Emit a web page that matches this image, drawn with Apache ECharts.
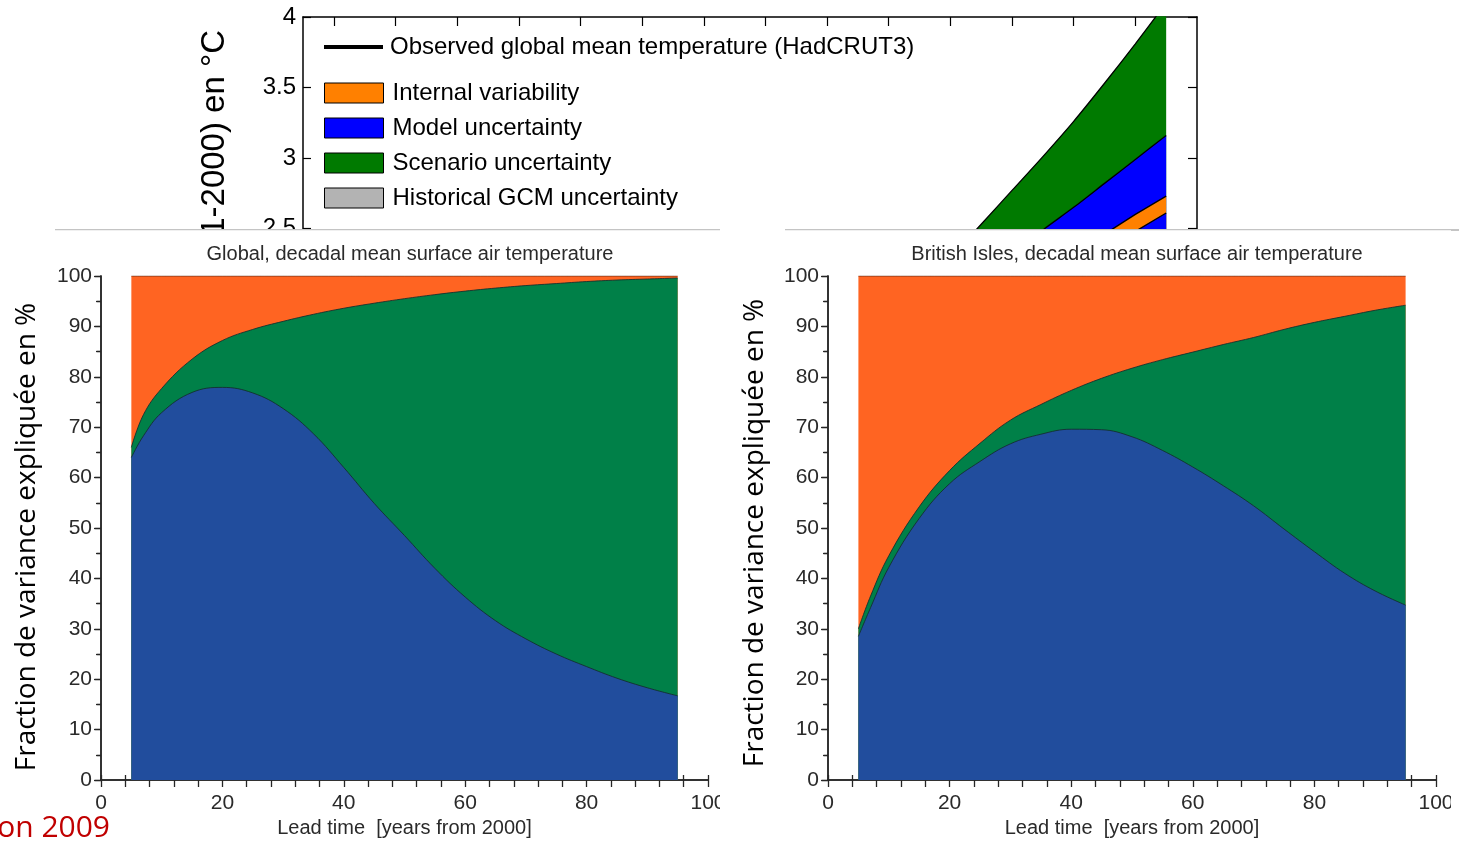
<!DOCTYPE html>
<html><head><meta charset="utf-8">
<script src="https://cdn.jsdelivr.net/npm/echarts@6/dist/echarts.min.js"></script>
<style>
html,body{margin:0;padding:0;background:#fff;width:1459px;height:843px;overflow:hidden;position:relative}
#topWrap{position:absolute;left:0;top:0;width:1459px;height:229px;overflow:hidden}
#top{position:absolute;left:0;top:0;width:1459px;height:310px}
#left{position:absolute;left:0;top:229px;width:720px;height:614px}
#right{position:absolute;left:720px;top:229px;width:731px;height:614px}
#rightEdge{position:absolute;left:1451px;top:229px;width:8px;height:1.5px;background:#c4c4c4}
</style></head><body>
<div id="topWrap"><div id="top"></div></div>
<div id="left"></div>
<div id="right"></div>
<div id="rightEdge"></div>
<script>
// ---------- data: top panel (temperature projections, °C) ----------
const topYears       = [2060, 2065, 2070, 2075, 2080, 2085, 2090, 2095];
const scenarioUpper  = [2.29, 2.53, 2.77, 3.01, 3.26, 3.53, 3.81, 4.10];
const modelUpper     = [2.00, 2.15, 2.32, 2.49, 2.65, 2.82, 2.99, 3.16];
const internalYears  = [2080, 2085, 2090, 2095];
const internalLower  = [2.22, 2.35, 2.48, 2.61];
const internalUpper  = [2.33, 2.46, 2.60, 2.73];
const topXTicks      = [1960, 1970, 1980, 1990, 2000, 2010, 2020, 2030, 2040, 2050, 2060, 2070, 2080, 2090];

// ---------- data: fraction of variance (%) ----------
const lead = [5, 7, 10, 15, 20, 25, 30, 35, 40, 45, 50, 55, 60, 65, 70, 75, 80, 85, 90, 95];
const globalModel    = [64.0, 68.3, 72.9, 76.9, 77.9, 76.8, 73.7, 68.7, 62.0, 54.9, 48.5, 42.0, 36.3, 31.6, 28.0, 25.0, 22.5, 20.2, 18.3, 16.7];
const globalScenario = [2.0, 4.2, 4.8, 6.6, 9.3, 12.6, 17.3, 23.7, 31.6, 39.7, 47.0, 54.3, 60.7, 66.0, 70.1, 73.5, 76.4, 79.0, 81.1, 82.9];
const globalInternal = [34.0, 27.5, 22.3, 16.5, 12.8, 10.6, 9.0, 7.6, 6.4, 5.4, 4.5, 3.7, 3.0, 2.4, 1.9, 1.5, 1.1, 0.8, 0.6, 0.4];
const britishModel    = [28.5, 34.2, 42.2, 51.9, 58.8, 63.2, 66.7, 68.6, 69.6, 69.5, 68.1, 65.4, 62.1, 58.4, 54.4, 49.8, 45.3, 41.0, 37.5, 34.7];
const britishScenario = [1.5, 2.3, 2.3, 2.3, 2.6, 3.6, 4.7, 5.9, 7.7, 10.2, 13.6, 18.0, 22.8, 28.0, 33.4, 39.6, 45.5, 51.0, 55.7, 59.5];
const britishInternal = [70.0, 63.5, 55.5, 45.8, 38.6, 33.2, 28.6, 25.5, 22.7, 20.3, 18.3, 16.6, 15.1, 13.6, 12.2, 10.6, 9.2, 8.0, 6.8, 5.8];

const HELV = 'Liberation Sans, Arial, sans-serif';
const SLIDE = 'Open Sans, Noto Sans, sans-serif';
const zip = (xs, ys) => xs.map((x, i) => [x, ys[i]]);

// ---------- top panel ----------
const topChart = echarts.init(document.getElementById('top'), null, {renderer: 'canvas'});
const LEG_OBS = 'Observed global mean temperature (HadCRUT3)';
const bandLine = {color: '#000', width: 1.3};
topChart.setOption({
  animation: false,
  backgroundColor: '#fff',
  grid: {left: 303, right: 262, top: 17, height: 282, outerBoundsMode: 'none'},
  legend: [
    {data: [{name: LEG_OBS, icon: 'rect', itemStyle: {color: '#000', borderWidth: 0}}],
     left: 319, top: 30, itemWidth: 59, itemHeight: 4, selectedMode: false,
     textStyle: {fontSize: 24, fontFamily: HELV, color: '#000', padding: [0, 0, 0, 2]}},
    {data: [
       {name: 'Internal variability', icon: 'rect', itemStyle: {color: '#ff8000', borderColor: '#000', borderWidth: 1}},
       {name: 'Model uncertainty', icon: 'rect', itemStyle: {color: '#0000ff', borderColor: '#000', borderWidth: 1}},
       {name: 'Scenario uncertainty', icon: 'rect', itemStyle: {color: '#007a00', borderColor: '#000', borderWidth: 1}},
       {name: 'Historical GCM uncertainty', icon: 'rect', itemStyle: {color: '#b3b3b3', borderColor: '#000', borderWidth: 1}}
     ],
     orient: 'vertical', left: 319, top: 76, itemWidth: 59, itemHeight: 20, itemGap: 11, selectedMode: false,
     textStyle: {fontSize: 24, fontFamily: HELV, color: '#000', padding: [0, 0, 0, 4]}}
  ],
  xAxis: [
    {type: 'value', min: 1955, max: 2100, position: 'bottom',
     axisLine: {show: true, lineStyle: {color: '#000', width: 1.5}},
     axisTick: {show: false}, axisLabel: {show: false}, splitLine: {show: false}},
    {type: 'value', min: 1955, max: 2100, position: 'top',
     axisLine: {show: true, lineStyle: {color: '#000', width: 1.5}},
     axisTick: {show: true, inside: true, length: 9, customValues: topXTicks, lineStyle: {color: '#000', width: 1.2}},
     axisLabel: {show: false}, splitLine: {show: false}}
  ],
  yAxis: [
    {type: 'value', min: 2, max: 4, interval: 0.5, position: 'left',
     axisLine: {show: true, lineStyle: {color: '#000', width: 1.5}},
     axisTick: {show: true, inside: true, length: 8, lineStyle: {color: '#000', width: 1.2}},
     axisLabel: {fontSize: 24, fontFamily: HELV, color: '#000', margin: 7},
     splitLine: {show: false}},
    {type: 'value', min: 2, max: 4, interval: 0.5, position: 'right',
     axisLine: {show: true, lineStyle: {color: '#000', width: 1.5}},
     axisTick: {show: true, inside: true, length: 9, lineStyle: {color: '#000', width: 1.2}},
     axisLabel: {show: false}, splitLine: {show: false}}
  ],
  series: [
    {name: 'Scenario uncertainty', type: 'line', data: zip(topYears, scenarioUpper), symbol: 'none', smooth: 0.3,
     itemStyle: {color: '#007a00'}, lineStyle: bandLine,
     areaStyle: {color: '#007a00', opacity: 1, origin: 'start'}, z: 2},
    {name: 'Model uncertainty', type: 'line', data: zip(topYears, modelUpper), symbol: 'none', smooth: 0.3,
     itemStyle: {color: '#0000ff'}, lineStyle: bandLine,
     areaStyle: {color: '#0000ff', opacity: 1, origin: 'start'}, z: 3},
    {name: 'Internal variability', type: 'line', data: zip(internalYears, internalUpper), symbol: 'none',
     itemStyle: {color: '#ff8000'}, lineStyle: bandLine,
     areaStyle: {color: '#ff8000', opacity: 1, origin: 'start'}, z: 4},
    {name: 'Model uncertainty', type: 'line', data: zip(internalYears, internalLower), symbol: 'none',
     itemStyle: {color: '#0000ff'}, lineStyle: bandLine,
     areaStyle: {color: '#0000ff', opacity: 1, origin: 'start'}, z: 5},
    {name: LEG_OBS, type: 'line', data: [], symbol: 'none', itemStyle: {color: '#000'}, lineStyle: {color: '#000', width: 4}},
    {name: 'Historical GCM uncertainty', type: 'line', data: [], symbol: 'none', itemStyle: {color: '#b3b3b3'},
     areaStyle: {color: '#b3b3b3'}}
  ],
  graphic: [
    {type: 'text', x: 215, y: 30, rotation: Math.PI / 2,
     style: {text: 'Anomalie de température (1971-2000) en °C', fontSize: 33, fontFamily: HELV, fill: '#000',
             textAlign: 'right', textVerticalAlign: 'middle'}}
  ]
});

// ---------- bottom panels ----------
function fractionChart(el, cfg) {
  const c = echarts.init(el, null, {renderer: 'canvas'});
  const axisCol = '#262626';
  const edge = {color: 'rgba(20,45,45,0.85)', width: 1};
  // cumulative tops of the three variance fractions
  const topModel = cfg.model;
  const topScenario = cfg.model.map((v, i) => v + cfg.scenario[i]);
  const topInternal = topScenario.map((v, i) => v + cfg.internal[i]);
  c.setOption({
    animation: false,
    backgroundColor: 'transparent',
    title: {text: cfg.title, left: cfg.titleX, top: 10, textAlign: 'center',
            textStyle: {fontSize: 20, fontWeight: 'normal', fontFamily: HELV, color: '#2a2a2a'}},
    grid: {left: cfg.gridLeft, top: 47, width: cfg.gridWidth, height: 504, outerBoundsMode: 'none'},
    xAxis: [
      {type: 'value', min: 0, max: 100, interval: 20, position: 'bottom',
       name: 'Lead time  [years from 2000]', nameLocation: 'middle', nameGap: 32,
       nameTextStyle: {fontSize: 20, fontFamily: HELV, color: '#2a2a2a'},
       axisLine: {show: true, lineStyle: {color: axisCol, width: 1.5}},
       axisTick: {show: true, length: 7, lineStyle: {color: axisCol, width: 1.3}},
       minorTick: {show: true, splitNumber: 5, length: 7, lineStyle: {color: axisCol, width: 1.3}},
       axisLabel: {fontSize: 21, fontFamily: HELV, color: '#2a2a2a', margin: 13},
       splitLine: {show: false}},
      {type: 'value', min: 0, max: 100, interval: 20, position: 'top',
       axisLine: {show: true, lineStyle: {color: axisCol, width: 1.5}},
       axisTick: {show: true, length: 5, lineStyle: {color: axisCol, width: 1.3}},
       minorTick: {show: true, splitNumber: 5, length: 5, lineStyle: {color: axisCol, width: 1.3}},
       axisLabel: {show: false}, splitLine: {show: false}}
    ],
    yAxis: [
      {type: 'value', min: 0, max: 100, interval: 10, position: 'left',
       axisLine: {show: true, lineStyle: {color: axisCol, width: 1.5}},
       axisTick: {show: true, length: 7, lineStyle: {color: axisCol, width: 1.3}},
       minorTick: {show: true, splitNumber: 2, length: 5, lineStyle: {color: axisCol, width: 1.3}},
       axisLabel: {fontSize: 21, fontFamily: HELV, color: '#2a2a2a', margin: 9},
       splitLine: {show: false}},
      {type: 'value', min: 0, max: 100, interval: 10, position: 'right',
       axisLine: {show: true, lineStyle: {color: axisCol, width: 1.5}},
       axisTick: {show: true, inside: true, length: 6, lineStyle: {color: axisCol, width: 1.3}},
       minorTick: {show: true, splitNumber: 2, length: 4, lineStyle: {color: axisCol, width: 1.3}},
       axisLabel: {show: false}, splitLine: {show: false}}
    ],
    series: [
      {name: 'Internal variability', type: 'line', data: zip(lead, topInternal), symbol: 'none', smooth: 0.4,
       lineStyle: {color: 'rgba(90,40,20,0.8)', width: 1}, areaStyle: {color: '#ff6422', opacity: 1, origin: 'start'}, z: 2},
      {name: 'Scenario uncertainty', type: 'line', data: zip(lead, topScenario), symbol: 'none', smooth: 0.4,
       lineStyle: edge, areaStyle: {color: '#008048', opacity: 1, origin: 'start'}, z: 3},
      {name: 'Model uncertainty', type: 'line', data: zip(lead, topModel), symbol: 'none', smooth: 0.4,
       lineStyle: edge, areaStyle: {color: '#214d9d', opacity: 1, origin: 'start'}, z: 4}
    ],
    graphic: cfg.graphic
  });
  return c;
}

fractionChart(document.getElementById('left'), {
  title: 'Global, decadal mean surface air temperature', titleX: 405,
  gridLeft: 101, gridWidth: 607,
  model: globalModel, scenario: globalScenario, internal: globalInternal,
  graphic: [
    {type: 'line', shape: {x1: 55, y1: 0.5, x2: 720, y2: 0.5}, style: {stroke: '#c4c4c4', lineWidth: 1.5}},
    {type: 'text', x: 27, y: 308, rotation: Math.PI / 2,
     style: {text: 'Fraction de variance expliquée en %', fontSize: 28, fontFamily: SLIDE, fill: '#000',
             textAlign: 'center', textVerticalAlign: 'middle'}},
    {type: 'text', x: 110, y: 599,
     style: {text: 'Hawkins and Sutton 2009', fontSize: 30, fontFamily: SLIDE, fill: '#c00000',
             textAlign: 'right', textVerticalAlign: 'middle'}}
  ]
});

fractionChart(document.getElementById('right'), {
  title: 'British Isles, decadal mean surface air temperature', titleX: 412,
  gridLeft: 108, gridWidth: 608,
  model: britishModel, scenario: britishScenario, internal: britishInternal,
  graphic: [
    {type: 'line', shape: {x1: 65, y1: 0.5, x2: 731, y2: 0.5}, style: {stroke: '#c4c4c4', lineWidth: 1.5}},
    {type: 'text', x: 35, y: 304, rotation: Math.PI / 2,
     style: {text: 'Fraction de variance expliquée en %', fontSize: 28, fontFamily: SLIDE, fill: '#000',
             textAlign: 'center', textVerticalAlign: 'middle'}}
  ]
});
</script>
</body></html>
